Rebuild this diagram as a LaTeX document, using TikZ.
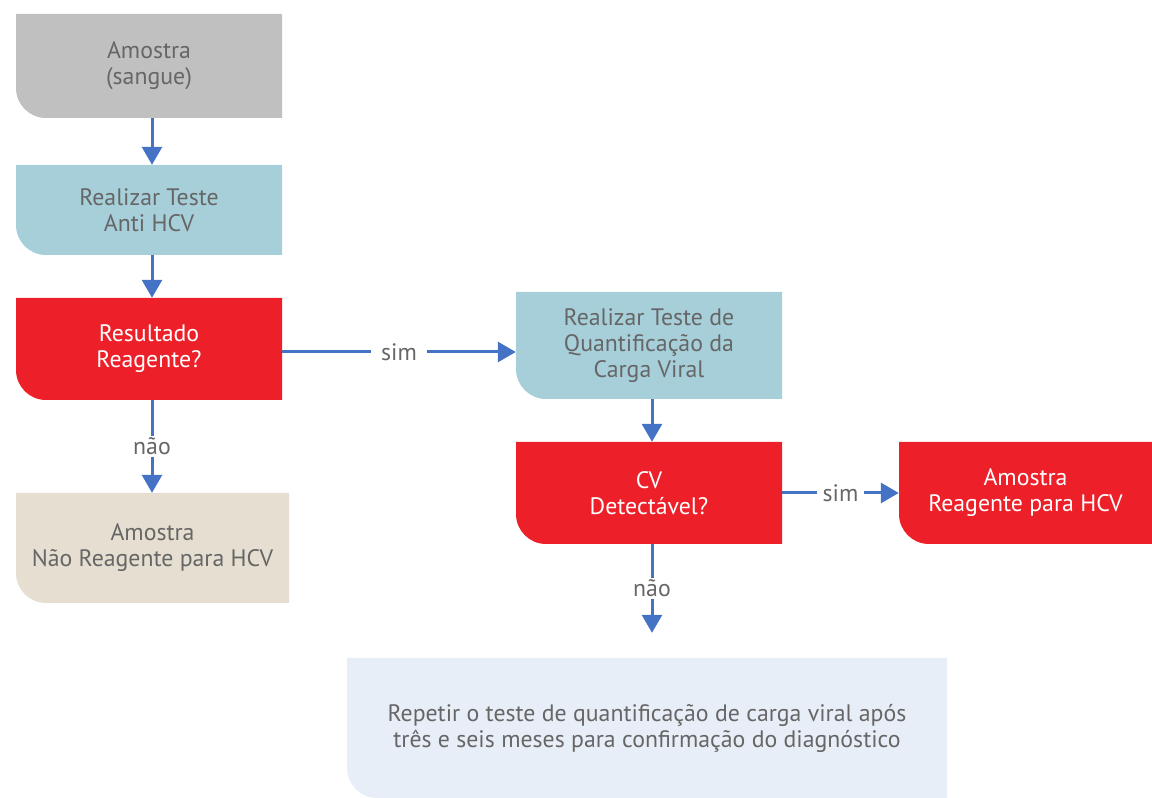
\documentclass[tikz,border=0pt]{standalone}
\usepackage{fontspec}
\setmainfont{PT Sans}
\usetikzlibrary{arrows.meta}

\definecolor{samplegrey}{HTML}{C0C0C0}
\definecolor{testblue}{HTML}{A6CFDA}
\definecolor{alertred}{HTML}{ED1F28}
\definecolor{negbeige}{HTML}{E6DFD1}
\definecolor{repeatblue}{HTML}{E8EEF7}
\definecolor{textgrey}{HTML}{666666}
\definecolor{arrowblue}{HTML}{4472C4}

\begin{document}
\begin{tikzpicture}[x=1pt, y=1pt,
	box/.style={inner sep=0pt, align=center, text=textgrey, font=\fontsize{23.8}{26}\selectfont,
		path picture={\fill[#1] (path picture bounding box.north west) -- (path picture bounding box.north east)
			-- (path picture bounding box.south east) -- ([xshift=30pt]path picture bounding box.south west)
			arc[start angle=270, end angle=180, radius=30pt] -- cycle;}},
	arr/.style={draw=arrowblue, line width=3pt, -{Triangle[length=18pt, width=20pt]}},
	lab/.style={fill=white, text=textgrey, font=\fontsize{23.8}{26}\selectfont, inner xsep=10pt, inner ysep=2pt}]

	% page size of the reference
	\useasboundingbox (0,0) rectangle (1152,798);

	% left column
	\node[box=samplegrey, minimum width=266pt, minimum height=104pt] (sample) at (149,732) {Amostra\\(sangue)};
	\node[box=testblue, minimum width=266pt, minimum height=90pt] (antihcv) at (149,588) {Realizar Teste\\Anti HCV};
	\node[box=alertred, text=white, minimum width=266pt, minimum height=102pt] (result) at (149,449) {Resultado\\Reagente?};
	\node[box=negbeige, minimum width=273pt, minimum height=110pt] (negative) at (152.5,250) {Amostra\\Não Reagente para HCV};

	% right column
	\node[box=testblue, minimum width=266pt, minimum height=107pt] (quant) at (649,452.5) {Realizar Teste de\\Quantificação da\\Carga Viral};
	\node[box=alertred, text=white, minimum width=266pt, minimum height=102pt] (cv) at (649,305) {CV\\Detectável?};
	\node[box=alertred, text=white, minimum width=253pt, minimum height=102pt] (positive) at (1025.5,305) {Amostra\\Reagente para HCV};
	\node[box=repeatblue, minimum width=600pt, minimum height=140pt] (repeat) at (647,70) {Repetir o teste de quantificação de carga viral após\\três e seis meses para confirmação do diagnóstico};

	% connectors
	\draw[arr] ([xshift=3pt]sample.south) -- ([xshift=3pt]antihcv.north);
	\draw[arr] ([xshift=3pt]antihcv.south) -- ([xshift=3pt]result.north);
	\draw[arr] ([xshift=3pt]result.south) -- node[lab] {não} ([xshift=3pt]result.south |- negative.north);
	\draw[arr] ([yshift=-3pt]result.east) -- node[lab] {sim} ([yshift=-3pt]result.east -| quant.west);
	\draw[arr] ([xshift=3pt]quant.south) -- ([xshift=3pt]cv.north);
	\draw[arr] (cv) -- node[lab, inner xsep=6pt] {sim} (positive);
	\coordinate (cvend) at ([xshift=3pt, yshift=25pt]cv.south |- repeat.north);
	\draw[arr] ([xshift=3pt]cv.south) -- node[lab] {não} (cvend);

\end{tikzpicture}
\end{document}
